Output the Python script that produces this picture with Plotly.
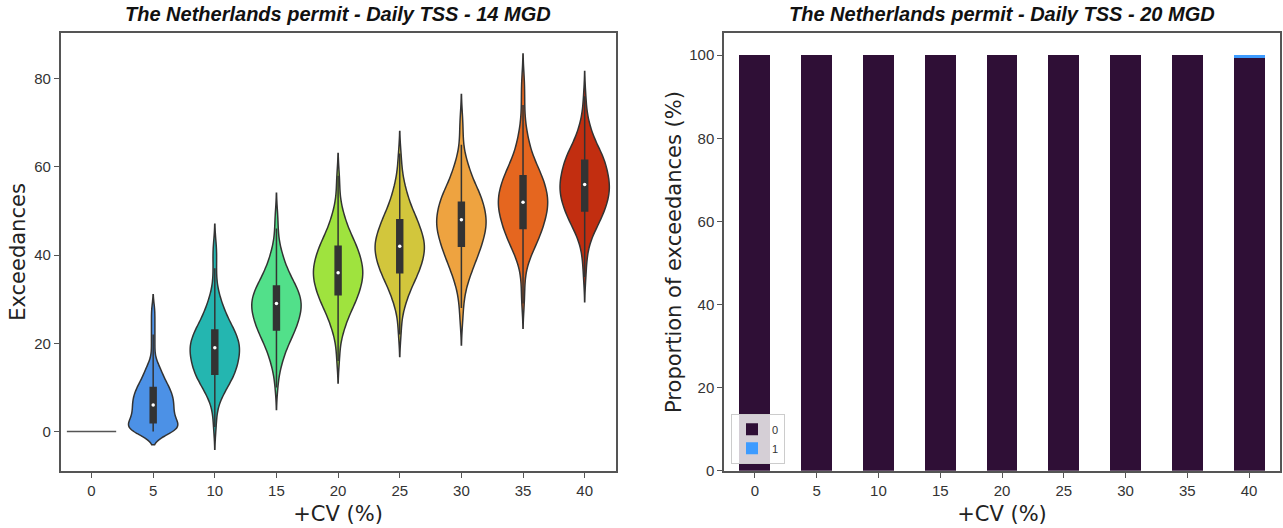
import numpy as np
import plotly.graph_objects as go

categories = ["0", "5", "10", "15", "20", "25", "30", "35", "40"]

# Exceedances per simulation as (value, number of simulations)
vals_0 = [0]
cnt_0 = [100]
vals_5 = [0, 1, 2, 3, 4, 5, 6, 7, 8, 9, 10, 11, 12, 13, 14, 15, 16, 18, 20, 22, 24, 26, 28]
cnt_5 = [10, 9, 7, 6, 6, 6, 6, 6, 6, 5, 5, 4, 3, 3, 2, 2, 1, 1, 1, 1, 1, 1, 1]
vals_10 = [1, 4, 7, 9, 11, 13, 15, 17, 19, 21, 23, 25, 27, 29, 31, 34, 37, 40, 42]
cnt_10 = [1, 1, 2, 4, 6, 9, 9, 10, 11, 10, 8, 6, 4, 3, 2, 1, 1, 1, 1]
vals_15 = [10, 13, 15, 17, 19, 21, 23, 25, 27, 29, 31, 33, 35, 37, 39, 41, 43, 46, 49]
cnt_15 = [1, 1, 2, 3, 4, 6, 8, 9, 10, 11, 10, 8, 6, 4, 3, 2, 1, 1, 1]
vals_20 = [16, 19, 22, 24, 26, 28, 30, 32, 34, 36, 38, 40, 42, 44, 46, 48, 50, 52, 55, 58]
cnt_20 = [1, 1, 2, 3, 4, 6, 8, 9, 10, 11, 10, 9, 8, 6, 4, 3, 2, 1, 1, 1]
vals_25 = [22, 25, 28, 30, 32, 34, 36, 38, 40, 42, 44, 46, 48, 50, 52, 54, 56, 58, 60, 63]
cnt_25 = [1, 1, 2, 3, 4, 6, 8, 9, 10, 11, 10, 8, 8, 5, 4, 3, 2, 1, 1, 1]
vals_30 = [25, 28, 31, 34, 36, 38, 40, 42, 44, 46, 48, 50, 52, 54, 56, 58, 60, 62, 65, 68, 71]
cnt_30 = [1, 1, 2, 3, 4, 5, 7, 8, 9, 10, 11, 9, 9, 8, 5, 4, 3, 2, 1, 1, 1]
vals_35 = [29, 32, 35, 38, 40, 42, 44, 46, 48, 50, 52, 54, 56, 58, 60, 62, 64, 66, 68, 71, 74, 77, 80]
cnt_35 = [1, 1, 1, 2, 3, 5, 7, 8, 9, 10, 11, 10, 9, 8, 6, 4, 3, 2, 2, 1, 1, 1, 1]
vals_40 = [35, 38, 41, 44, 46, 48, 50, 52, 54, 56, 58, 60, 62, 64, 66, 68, 70, 73, 76]
cnt_40 = [1, 1, 2, 3, 5, 7, 9, 10, 11, 12, 10, 9, 10, 6, 4, 3, 2, 1, 1]

exc_values = [vals_0, vals_5, vals_10, vals_15, vals_20, vals_25, vals_30, vals_35, vals_40]
exc_counts = [cnt_0, cnt_5, cnt_10, cnt_15, cnt_20, cnt_25, cnt_30, cnt_35, cnt_40]

# Right panel: proportion of exceedances (%)
prop_0 = [100, 100, 100, 100, 100, 100, 100, 100, 99.4]
prop_1 = [0, 0, 0, 0, 0, 0, 0, 0, 0.6]

# styling
violin_colors = ["#3b2a7a", "#4c91e6", "#24b6b0", "#52e08a", "#9fe33e",
                 "#d2c63c", "#eea340", "#e5661f", "#c22e10"]
kde_bw = [1.0, 1.5, 2.5, 2.5, 2.5, 2.5, 2.7, 2.8, 2.8]
EDGE = "#333333"

fig = go.Figure()

medians = []
for cat, v, c, col, bw in zip(categories, exc_values, exc_counts, violin_colors, kde_bw):
    samples = np.repeat(v, c)
    medians.append(float(np.median(samples)))
    if np.std(samples) == 0:
        fig.add_trace(go.Box(
            x=[cat] * len(samples), y=samples, width=0.8,
            line=dict(color="#555555", width=1.5), fillcolor="#555555",
            boxpoints=False, showlegend=False, xaxis="x", yaxis="y"))
    else:
        fig.add_trace(go.Violin(
            x=[cat] * len(samples), y=samples, width=0.8,
            scalegroup="all", scalemode="width", bandwidth=bw, spanmode="soft",
            fillcolor=col, line=dict(color=EDGE, width=1.5), opacity=1,
            points=False,
            box=dict(visible=True, width=0.12, fillcolor=EDGE, line=dict(color=EDGE, width=1.5)),
            meanline=dict(visible=False),
            showlegend=False, xaxis="x", yaxis="y"))

fig.add_trace(go.Scatter(
    x=categories[1:], y=medians[1:], mode="markers",
    marker=dict(color="white", size=3.5), showlegend=False,
    xaxis="x", yaxis="y"))

fig.add_trace(go.Bar(x=categories, y=prop_0, name="0", marker=dict(color="#2f0f36", line=dict(width=0)),
                     width=0.5, xaxis="x2", yaxis="y2"))
fig.add_trace(go.Bar(x=categories, y=prop_1, name="1", marker=dict(color="#3d9bff", line=dict(width=0)),
                     width=0.5, xaxis="x2", yaxis="y2"))

TICKFONT = dict(family="Liberation Sans, Arial, sans-serif", size=15, color="#333333")
LABFONT = dict(family="DejaVu Sans, sans-serif", size=21, color="#222222")
TITLEFONT = dict(family="Liberation Sans, Arial, sans-serif", size=20, color="#111111")

axis_common = dict(showline=True, linecolor="#555555", linewidth=1.5, mirror=True,
                   ticks="outside", ticklen=5, tickcolor="#555555", tickwidth=1.2,
                   showgrid=False, zeroline=False, tickfont=TICKFONT)

left_dom = [60.7 / 1283, 615.5 / 1283]
right_dom = [724 / 1283, 1280 / 1283]
y_dom = [1 - 478 / 528, 1 - 33.7 / 528]

fig.update_layout(
    width=1283, height=528,
    margin=dict(l=0, r=0, t=0, b=0),
    paper_bgcolor="white", plot_bgcolor="white",
    barmode="stack", bargap=0.5,
    xaxis=dict(domain=left_dom, type="category", categoryorder="array", categoryarray=categories,
               range=[-0.5, 8.5], title=dict(text="+CV (%)", font=LABFONT, standoff=9), **axis_common),
    yaxis=dict(domain=y_dom, range=[-8.9, 90.3], tickvals=[0, 20, 40, 60, 80],
               title=dict(text="Exceedances", font=LABFONT, standoff=3), **axis_common),
    xaxis2=dict(domain=right_dom, anchor="y2", type="category", categoryorder="array", categoryarray=categories,
                range=[-0.5, 8.5], title=dict(text="+CV (%)", font=LABFONT, standoff=9), **axis_common),
    yaxis2=dict(domain=y_dom, anchor="x2", range=[0, 105.3], tickvals=[0, 20, 40, 60, 80, 100],
                title=dict(text="Proportion of exceedances (%)", font=LABFONT, standoff=2), **axis_common),
    legend=dict(x=731 / 1283, y=1 - 471 / 528, xanchor="left", yanchor="bottom", traceorder="normal",
                bgcolor="rgba(255,255,255,0.8)", bordercolor="#cccccc", borderwidth=1,
                font=dict(family="Liberation Sans, Arial, sans-serif", size=11, color="#333333"),
                tracegroupgap=0, itemwidth=30),
    annotations=[
        dict(text="<b><i>The Netherlands permit - Daily TSS - 14 MGD</i></b>", x=sum(left_dom) / 2, y=1 - 14 / 528,
             xref="paper", yref="paper", xanchor="center", yanchor="middle", showarrow=False, font=TITLEFONT),
        dict(text="<b><i>The Netherlands permit - Daily TSS - 20 MGD</i></b>", x=sum(right_dom) / 2, y=1 - 14 / 528,
             xref="paper", yref="paper", xanchor="center", yanchor="middle", showarrow=False, font=TITLEFONT),
    ],
)

fig.write_html("out.html")
